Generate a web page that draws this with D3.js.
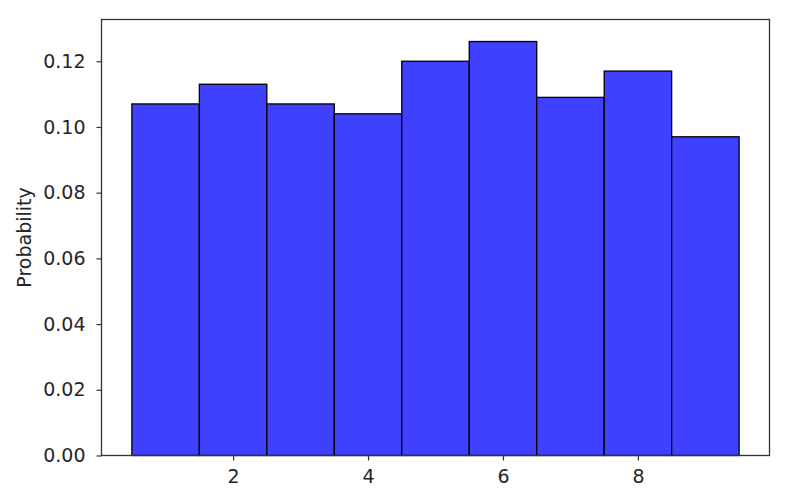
<!DOCTYPE html>
<html>
<head>
<meta charset="utf-8">
<script src="https://cdn.jsdelivr.net/npm/d3@7"></script>
<style>
  body { margin: 0; background: #fff; }
  svg text { font-family: "DejaVu Sans", sans-serif; fill: #262626; }
</style>
</head>
<body>
<script>
// histogram bins (integers 1..9, bin edges at +/- 0.5)
var binCenters = [1, 2, 3, 4, 5, 6, 7, 8, 9];
var probs = [0.107, 0.113, 0.107, 0.104, 0.120, 0.126, 0.109, 0.117, 0.097];
var xTicks = [2, 4, 6, 8];
var yTicks = [0.00, 0.02, 0.04, 0.06, 0.08, 0.10, 0.12];

var W = 804, H = 500;
var plotL = 101.5, plotR = 769.5, plotT = 19.5, plotB = 455.5;

var svg = d3.select("body").append("svg")
    .attr("width", W)
    .attr("height", H);

var x = d3.scaleLinear().domain([0.05, 9.95]).range([plotL, plotR]);
var y = d3.scaleLinear().domain([0, 0.1327]).range([plotB, plotT]);

// bars
svg.append("g").selectAll("rect")
    .data(binCenters)
  .enter().append("rect")
    .attr("x", function(d) { return x(d - 0.5); })
    .attr("width", function(d) { return x(d + 0.5) - x(d - 0.5); })
    .attr("y", function(d, i) { return y(probs[i]); })
    .attr("height", function(d, i) { return plotB - y(probs[i]); })
    .attr("fill", "rgb(64,64,255)")
    .attr("stroke", "#000")
    .attr("stroke-width", 1.3);

// axes
var xAxis = d3.axisBottom(x).tickValues(xTicks).tickSize(5).tickPadding(9)
    .tickFormat(d3.format("d"));
var yAxis = d3.axisLeft(y).tickValues(yTicks).tickSize(5).tickPadding(11)
    .tickFormat(d3.format(".2f"));

var gx = svg.append("g").attr("transform", "translate(0," + plotB + ")").call(xAxis);
var gy = svg.append("g").attr("transform", "translate(" + plotL + ",0)").call(yAxis);

[gx, gy].forEach(function(g) {
  g.select(".domain").remove();
  g.selectAll(".tick line").attr("stroke", "#333").attr("stroke-width", 1.2);
  g.selectAll(".tick text").style("font-size", "19px").attr("fill", "#262626");
});

// frame
svg.append("rect")
    .attr("x", plotL).attr("y", plotT)
    .attr("width", plotR - plotL).attr("height", plotB - plotT)
    .attr("fill", "none")
    .attr("stroke", "#333")
    .attr("stroke-width", 1.3);

svg.append("text")
    .attr("transform", "translate(31," + ((plotT + plotB) / 2) + ") rotate(-90)")
    .attr("text-anchor", "middle")
    .style("font-size", "19px")
    .text("Probability");
</script>
</body>
</html>
